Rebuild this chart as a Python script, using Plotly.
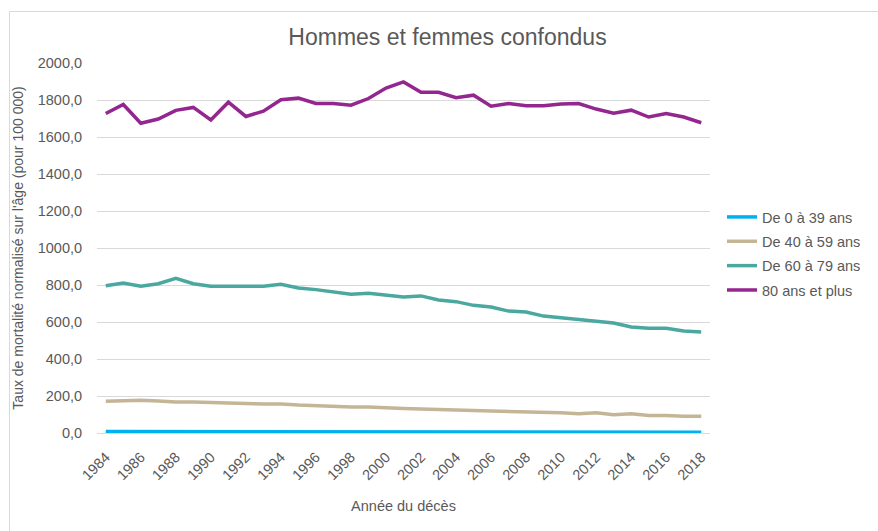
import plotly.graph_objects as go

years = list(range(1984, 2019))

ages_0_39 = [8, 8, 8, 8, 8, 8, 8, 8, 8, 8, 8, 8, 8, 8, 8, 8, 7,
             4, 4, 4, 4, 4, 4, 4, 4, 4, 4, 4, 4, 4, 4, 4, 4, 4, 4]
ages_40_59 = [171, 175, 177, 173, 168, 168, 164, 160, 160, 157, 157, 151, 148, 141, 141, 141, 135,
              133, 130, 126, 122, 122, 119, 117, 115, 113, 110, 104, 110, 99, 104, 95, 95, 90, 90]
ages_60_79 = [796, 811, 793, 807, 836, 807, 793, 793, 793, 793, 804, 784, 775, 762, 750, 755, 744,
              735, 741, 719, 710, 690, 681, 659, 654, 632, 623, 614, 604, 595, 573, 566, 566, 551, 546]
ages_80_plus = [1727, 1776, 1674, 1697, 1744, 1760, 1692, 1788, 1711, 1740, 1801, 1810, 1781, 1781, 1772, 1808, 1865,
                1898, 1842, 1842, 1812, 1826, 1767, 1781, 1769, 1769, 1778, 1781, 1751, 1729, 1745, 1708, 1727, 1708, 1677]

series_names = ["De 0 à 39 ans", "De 40 à 59 ans", "De 60 à 79 ans", "80 ans et plus"]
series_values = [ages_0_39, ages_40_59, ages_60_79, ages_80_plus]
series_colors = ["#00B0F0", "#C4B596", "#4AA8A0", "#93278F"]

x_tickvals = list(range(1984, 2019, 2))
x_ticktext = [str(v) for v in x_tickvals]
y_tickvals = list(range(0, 2001, 200))

fig = go.Figure()
for i, (name, vals, col) in enumerate(zip(series_names, series_values, series_colors)):
    fig.add_trace(go.Scatter(x=years, y=vals, name=name, mode="lines", legendgroup=f"g{i}",
                             line=dict(color=col, width=3.5)))

font_color = "#595959"
W, H = 878, 531
ml, mr, mt, mb = 97, 168, 63, 98
pw = W - ml - mr
ph = H - mt - mb

def px_x(p):
    return (p - ml) / pw

def px_y(p):
    return (H - mb - p) / ph

fig.update_layout(
    width=W, height=H,
    margin=dict(l=ml, r=mr, t=mt, b=mb, pad=0),
    paper_bgcolor="white", plot_bgcolor="white",
    separators=", ",
    font=dict(family="Liberation Sans, Arial, sans-serif", size=14.5, color=font_color),
    title=dict(text="Hommes et femmes confondus", x=447.5 / W, xanchor="center",
               y=1 - 37 / H, yanchor="middle",
               font=dict(size=23, color=font_color)),
    showlegend=True,
    legend=dict(x=px_x(722), y=px_y(201), xanchor="left", yanchor="top",
                font=dict(size=14.5, color=font_color), bgcolor="rgba(0,0,0,0)",
                traceorder="grouped", tracegroupgap=2.5),
    xaxis=dict(range=[1983.5, 2018.5], tickvals=x_tickvals, ticktext=x_ticktext,
               tickangle=-45, showgrid=False, zeroline=False, automargin=False,
               showline=True, linecolor="#D9D9D9", linewidth=1,
               ticks="outside", ticklen=9, tickcolor="rgba(0,0,0,0)",
               title=dict(text="Année du décès", font=dict(size=14.5, color=font_color), standoff=18)),
    yaxis=dict(range=[0, 2000], tickvals=y_tickvals, tickformat=".1f", automargin=False,
               showgrid=True, gridcolor="#D9D9D9", gridwidth=1, zeroline=False,
               showline=False, ticks="outside", ticklen=11, tickcolor="rgba(0,0,0,0)",
               title=dict(text="Taux de mortalité normalisé sur l'âge (pour 100 000)",
                          font=dict(size=14, color=font_color), standoff=10)),
    shapes=[dict(type="rect", xref="paper", yref="paper",
                 x0=px_x(9.5), x1=px_x(900), y0=px_y(560), y1=px_y(11.5),
                 line=dict(color="#D9D9D9", width=1), fillcolor="rgba(0,0,0,0)", layer="below")],
)

fig.write_html("out.html", config={"displayModeBar": False},
               post_script="document.body.style.margin='0';document.body.style.padding='0';")
